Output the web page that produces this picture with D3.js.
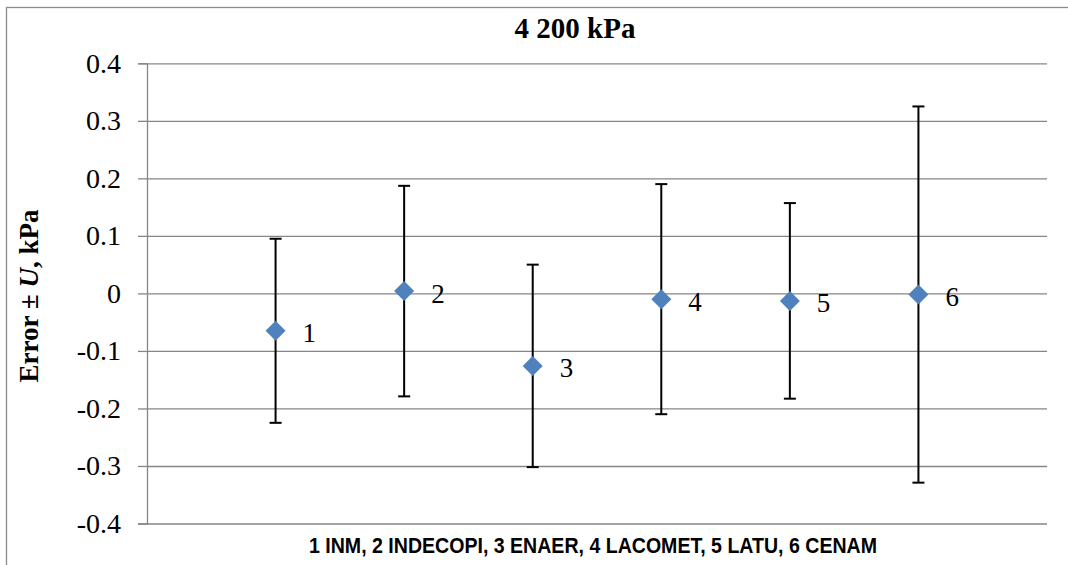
<!DOCTYPE html>
<html>
<head>
<meta charset="utf-8">
<script src="https://cdn.jsdelivr.net/npm/d3@7"></script>
<style>
  body { margin: 0; background: #fff; }
  svg { display: block; }
</style>
</head>
<body>
<div id="chart"></div>
<script>
// lab numbers, error values and expanded uncertainty (kPa)
const labs = ["1", "2", "3", "4", "5", "6"];
const errs = [-0.065, 0.004, -0.126, -0.010, -0.013, -0.002];
const unc = [0.160, 0.183, 0.176, 0.200, 0.170, 0.327];
const yTicks = [-0.4, -0.3, -0.2, -0.1, 0, 0.1, 0.2, 0.3, 0.4];
const title = "4 200 kPa";
const xTitle = "1 INM, 2 INDECOPI, 3 ENAER, 4 LACOMET, 5 LATU, 6 CENAM";

const width = 1068;
const height = 565;
const marginLeft = 147;
const marginRight = 21;
const marginTop = 63.3;
const plotBottom = 523.5;

const data = labs.map((l, i) => ({ lab: l, idx: i + 1, err: errs[i], u: unc[i] }));

const svg = d3.select("#chart")
  .append("svg")
  .attr("width", width)
  .attr("height", height)
  .attr("viewBox", [0, 0, width, height]);

// outer chart border
svg.append("rect")
  .attr("x", 6.5)
  .attr("y", 7.5)
  .attr("width", width + 20)
  .attr("height", height + 20)
  .attr("fill", "none")
  .attr("stroke", "#8c8c8c")
  .attr("stroke-width", 1.3);

const x = d3.scaleLinear()
  .domain([0, labs.length + 1])
  .range([marginLeft, width - marginRight]);

const y = d3.scaleLinear()
  .domain([-0.4, 0.4])
  .range([plotBottom, marginTop]);

// gridlines + left axis
svg.append("g")
  .attr("transform", `translate(${marginLeft},0)`)
  .call(d3.axisLeft(y)
    .tickValues(yTicks)
    .tickSize(9)
    .tickPadding(17)
    .tickFormat(d => d === 0 ? "0" : d.toFixed(1)))
  .call(g => g.select(".domain").attr("stroke", "#868686").attr("stroke-width", 1.3))
  .call(g => g.selectAll(".tick line").attr("stroke", "#868686").attr("stroke-width", 1.3))
  .call(g => g.selectAll(".tick line").clone()
    .attr("x2", width - marginRight - marginLeft))
  .call(g => g.selectAll(".tick text")
    .attr("font-family", "'Liberation Serif', 'Times New Roman', serif")
    .attr("font-size", 28)
    .attr("fill", "#000"));

// error bars
const bars = svg.append("g")
  .attr("stroke", "#000")
  .attr("stroke-width", 2);

bars.selectAll("line.bar")
  .data(data)
  .join("line")
  .attr("class", "bar")
  .attr("x1", d => x(d.idx))
  .attr("x2", d => x(d.idx))
  .attr("y1", d => y(d.err + d.u))
  .attr("y2", d => y(d.err - d.u));

bars.selectAll("line.capTop")
  .data(data)
  .join("line")
  .attr("class", "capTop")
  .attr("x1", d => x(d.idx) - 6)
  .attr("x2", d => x(d.idx) + 6)
  .attr("y1", d => y(d.err + d.u))
  .attr("y2", d => y(d.err + d.u));

bars.selectAll("line.capBot")
  .data(data)
  .join("line")
  .attr("class", "capBot")
  .attr("x1", d => x(d.idx) - 6)
  .attr("x2", d => x(d.idx) + 6)
  .attr("y1", d => y(d.err - d.u))
  .attr("y2", d => y(d.err - d.u));

// diamond markers
svg.append("g")
  .attr("fill", "#4f81bd")
  .selectAll("path")
  .data(data)
  .join("path")
  .attr("d", d3.symbol(d3.symbolSquare, 200))
  .attr("transform", d => `translate(${x(d.idx)},${y(d.err)}) rotate(45)`);

// point labels
svg.append("g")
  .attr("font-family", "'Liberation Serif', 'Times New Roman', serif")
  .attr("font-size", 27)
  .selectAll("text")
  .data(data)
  .join("text")
  .attr("x", d => x(d.idx) + 27)
  .attr("y", d => y(d.err) + 2)
  .attr("dy", "0.35em")
  .text(d => d.lab);

// title
svg.append("text")
  .attr("x", 575)
  .attr("y", 38)
  .attr("text-anchor", "middle")
  .attr("font-family", "'Liberation Serif', 'Times New Roman', serif")
  .attr("font-weight", "bold")
  .attr("font-size", 29)
  .text(title);

// y axis title
const yt = svg.append("text")
  .attr("transform", `translate(38,296) rotate(-90)`)
  .attr("text-anchor", "middle")
  .attr("font-family", "'Liberation Serif', 'Times New Roman', serif")
  .attr("font-weight", "bold")
  .attr("font-size", 27);
yt.append("tspan").text("Error \u00b1 ");
yt.append("tspan").attr("font-style", "italic").text("U");
yt.append("tspan").text(", kPa");

// x axis title
svg.append("text")
  .attr("x", 593)
  .attr("y", 553)
  .attr("text-anchor", "middle")
  .attr("font-family", "'Liberation Sans Narrow', 'Arial Narrow', 'Liberation Sans', sans-serif")
  .attr("font-weight", "bold")
  .attr("font-size", 22.5)
  .attr("textLength", 568)
  .attr("lengthAdjust", "spacingAndGlyphs")
  .text(xTitle);
</script>
</body>
</html>
